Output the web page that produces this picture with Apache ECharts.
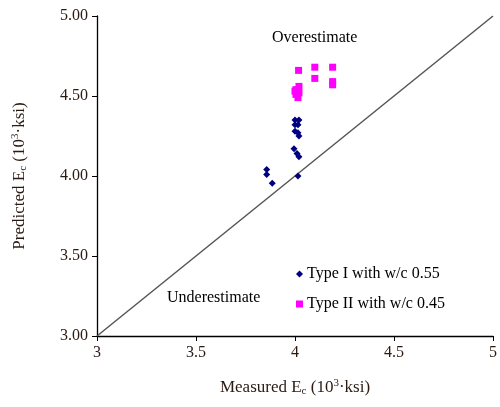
<!DOCTYPE html>
<html><head><meta charset="utf-8">
<script src="https://cdn.jsdelivr.net/npm/echarts@6/dist/echarts.min.js"></script>
<style>html,body{margin:0;padding:0;background:#fff}#c{width:500px;height:407px}</style>
</head><body><div id="c"></div>
<script>
var xTicks = [3, 3.5, 4, 4.5, 5];
var yTicks = [3.0, 3.5, 4.0, 4.5, 5.0];
var typeI = [
  [4.00, 4.35], [4.02, 4.35], [4.00, 4.32], [4.015, 4.32], [4.00, 4.28],
  [4.015, 4.27], [4.02, 4.25], [3.995, 4.17], [4.01, 4.14], [4.02, 4.12],
  [4.015, 4.00], [3.857, 4.04], [3.857, 4.01], [3.885, 3.955]
];
var typeII = [
  [4.018, 4.66], [4.10, 4.68], [4.10, 4.61], [4.19, 4.68], [4.19, 4.59],
  [4.19, 4.57], [4.02, 4.56], [4.005, 4.54], [4.005, 4.51], [4.015, 4.49],
  [4.00, 4.53], [4.02, 4.52]
];
var lineEq = [[3, 3], [5, 5]];

var txt = '#2a1a12';
var font = 'Liberation Serif';
var chart = echarts.init(document.getElementById('c'));
chart.setOption({
  animation: false,
  grid: { left: 97, right: 3, top: 16, bottom: 71 },
  xAxis: {
    type: 'value', min: 3, max: 5, interval: 0.5,
    axisLine: { lineStyle: { color: '#000', width: 1.3 } },
    axisTick: { show: true, length: 5, lineStyle: { color: '#000' } },
    splitLine: { show: false },
    axisLabel: { color: txt, fontFamily: font, fontSize: 16, margin: 9,
      formatter: function (v) { return xTicks.indexOf(v) >= 0 ? String(v) : ''; } },
    name: '{a|Measured E}{s|c}{a| (10}{p|3}{a|·ksi)}',
    nameLocation: 'middle', nameGap: 42,
    nameTextStyle: { rich: {
      a: { fontFamily: font, fontSize: 17, color: txt },
      s: { fontFamily: font, fontSize: 11, color: txt, verticalAlign: 'bottom', padding: [8, 0, 0, 0] },
      p: { fontFamily: font, fontSize: 11, color: txt, verticalAlign: 'top', padding: [0, 0, 8, 0] }
    } }
  },
  yAxis: {
    type: 'value', min: 3, max: 5, interval: 0.5,
    axisLine: { show: true, lineStyle: { color: '#000', width: 1.3 } },
    axisTick: { show: true, length: 5, lineStyle: { color: '#000' } },
    splitLine: { show: false },
    axisLabel: { color: txt, fontFamily: font, fontSize: 16, margin: 9,
      formatter: function (v) { return v.toFixed(2); } },
    name: '{a|Predicted E}{s|c}{a| (10}{p|3}{a|·ksi)}',
    nameLocation: 'middle', nameGap: 68,
    nameTextStyle: { rich: {
      a: { fontFamily: font, fontSize: 17, color: txt },
      s: { fontFamily: font, fontSize: 11, color: txt, verticalAlign: 'bottom', padding: [8, 0, 0, 0] },
      p: { fontFamily: font, fontSize: 11, color: txt, verticalAlign: 'top', padding: [0, 0, 8, 0] }
    } }
  },
  legend: {
    orient: 'vertical', left: 291, top: 261, itemGap: 14,
    itemWidth: 7, itemHeight: 7,
    textStyle: { fontFamily: font, fontSize: 16, color: '#000', padding: [0, 0, 0, -1] },
    data: [
      { name: 'Type I with w/c 0.55', icon: 'diamond' },
      { name: 'Type II with w/c 0.45', icon: 'rect' }
    ]
  },
  graphic: [
    { type: 'text', left: 272, top: 30, style: { text: 'Overestimate', font: '16px "Liberation Serif"', fill: '#000' } },
    { type: 'text', left: 167, top: 290, style: { text: 'Underestimate', font: '16px "Liberation Serif"', fill: '#000' } }
  ],
  series: [
    { type: 'line', data: lineEq, symbol: 'none', silent: true,
      lineStyle: { color: '#555', width: 1.5 }, z: 1 },
    { name: 'Type I with w/c 0.55', type: 'scatter', data: typeI,
      symbol: 'diamond', symbolSize: 7, itemStyle: { color: '#000080', opacity: 1 } },
    { name: 'Type II with w/c 0.45', type: 'scatter', data: typeII,
      symbol: 'rect', symbolSize: 7, itemStyle: { color: '#ff00ff', opacity: 1 } }
  ]
});
</script></body></html>
